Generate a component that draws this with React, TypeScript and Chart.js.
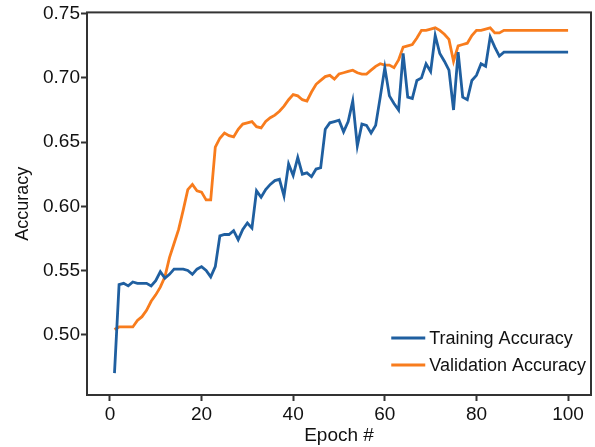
import React, { useEffect, useRef } from "react";
import { Chart, registerables } from "chart.js";

Chart.register(...registerables);

const epochs: number[] = Array.from({ length: 100 }, (_, i) => i + 1);

const trainingAccuracy: number[] = [
  0.470, 0.539, 0.540, 0.538, 0.541, 0.540, 0.540, 0.540, 0.538, 0.542,
  0.549, 0.544, 0.547, 0.551, 0.551, 0.551, 0.550, 0.547, 0.551, 0.553,
  0.550, 0.545, 0.553, 0.577, 0.578, 0.578, 0.581, 0.574, 0.582, 0.587,
  0.583, 0.612, 0.607, 0.613, 0.617, 0.620, 0.621, 0.608, 0.633, 0.624,
  0.638, 0.625, 0.626, 0.623, 0.629, 0.630, 0.660, 0.665, 0.666, 0.667,
  0.658, 0.666, 0.682, 0.647, 0.664, 0.663, 0.657, 0.663, 0.685, 0.708,
  0.686, 0.680, 0.675, 0.719, 0.685, 0.684, 0.698, 0.700, 0.711, 0.705,
  0.733, 0.719, 0.713, 0.706, 0.675, 0.720, 0.685, 0.683, 0.698, 0.702,
  0.711, 0.709, 0.732, 0.724, 0.717, 0.720, 0.720, 0.720, 0.720, 0.720,
  0.720, 0.720, 0.720, 0.720, 0.720, 0.720, 0.720, 0.720, 0.720, 0.720,
];

const validationAccuracy: number[] = [
  0.504, 0.506, 0.506, 0.506, 0.506, 0.511, 0.514, 0.519, 0.526, 0.531,
  0.537, 0.545, 0.560, 0.571, 0.582, 0.597, 0.613, 0.617, 0.612, 0.611,
  0.605, 0.605, 0.646, 0.653, 0.657, 0.655, 0.654, 0.660, 0.664, 0.665,
  0.666, 0.662, 0.661, 0.666, 0.669, 0.671, 0.674, 0.678, 0.683, 0.687,
  0.686, 0.683, 0.682, 0.689, 0.695, 0.698, 0.701, 0.702, 0.699, 0.703,
  0.704, 0.705, 0.706, 0.704, 0.703, 0.703, 0.706, 0.709, 0.711, 0.710,
  0.710, 0.708, 0.714, 0.724, 0.725, 0.726, 0.731, 0.737, 0.737, 0.738,
  0.739, 0.737, 0.734, 0.730, 0.713, 0.725, 0.726, 0.727, 0.733, 0.737,
  0.737, 0.738, 0.739, 0.735, 0.735, 0.737, 0.737, 0.737, 0.737, 0.737,
  0.737, 0.737, 0.737, 0.737, 0.737, 0.737, 0.737, 0.737, 0.737, 0.737,
];

const xTicks: number[] = [0, 20, 40, 60, 80, 100];
const yTicks: number[] = [0.5, 0.55, 0.6, 0.65, 0.7, 0.75];

const seriesLabels: string[] = ["Training Accuracy", "Validation Accuracy"];
const seriesColors: string[] = ["#1f5fa0", "#f87c1d"];

const FONT = "'Liberation Sans', Arial, sans-serif";

const framePlugin = {
  id: "frameAndLegend",
  afterDatasetsDraw(chart: any) {
    const { ctx, chartArea } = chart;
    ctx.save();
    ctx.strokeStyle = "#333333";
    ctx.lineWidth = 2;
    ctx.strokeRect(chartArea.left, chartArea.top, chartArea.right - chartArea.left, chartArea.bottom - chartArea.top);
    // legend inside lower right
    ctx.font = `18px ${FONT}`;
    ctx.textBaseline = "middle";
    ctx.textAlign = "left";
    const rowH = 27;
    const lineLen = 34;
    const gap = 4;
    const widths = chart.data.datasets.map((d: any) => ctx.measureText(d.label).width);
    const maxW = Math.max(...widths);
    const x0 = chartArea.right - 5 - maxW - gap - lineLen;
    const y0 = chartArea.bottom - 30 - rowH;
    chart.data.datasets.forEach((d: any, i: number) => {
      const y = y0 + i * rowH;
      ctx.strokeStyle = d.borderColor;
      ctx.lineWidth = 3;
      ctx.beginPath();
      ctx.moveTo(x0, y);
      ctx.lineTo(x0 + lineLen, y);
      ctx.stroke();
      ctx.fillStyle = "#111111";
      ctx.fillText(d.label, x0 + lineLen + gap, y + 1);
    });
    ctx.restore();
  },
};

export default function App() {
  const canvasRef = useRef<HTMLCanvasElement | null>(null);

  useEffect(() => {
    if (!canvasRef.current) return;
    const chart = new Chart(canvasRef.current, {
      type: "line",
      data: {
        datasets: [
          {
            label: seriesLabels[0],
            data: epochs.map((e, i) => ({ x: e, y: trainingAccuracy[i] })),
            borderColor: seriesColors[0],
            backgroundColor: seriesColors[0],
            borderWidth: 2.8,
            pointRadius: 0,
            tension: 0,
          },
          {
            label: seriesLabels[1],
            data: epochs.map((e, i) => ({ x: e, y: validationAccuracy[i] })),
            borderColor: seriesColors[1],
            backgroundColor: seriesColors[1],
            borderWidth: 2.8,
            pointRadius: 0,
            tension: 0,
          },
        ],
      },
      options: {
        animation: false,
        responsive: false,
        maintainAspectRatio: false,
        layout: { padding: { top: 12, right: 4, left: 0, bottom: 0 } },
        plugins: {
          legend: { display: false },
          tooltip: { enabled: false },
        },
        scales: {
          x: {
            type: "linear",
            min: -5,
            max: 105,
            afterBuildTicks: (scale: any) => {
              scale.ticks = xTicks.map((v) => ({ value: v }));
            },
            afterFit: (scale: any) => {
              scale.height = 52;
            },
            grid: { drawOnChartArea: false, drawTicks: true, tickLength: 6, tickColor: "#333333", tickWidth: 2 },
            border: { display: false },
            ticks: {
              color: "#111111",
              font: { family: FONT, size: 19 },
              padding: 2,
              maxRotation: 0,
              callback: (v: any) => String(v),
            },
            title: {
              display: true,
              text: "Epoch #",
              color: "#111111",
              font: { family: FONT, size: 19 },
              padding: { top: 0, bottom: 0 },
            },
          },
          y: {
            type: "linear",
            min: 0.453,
            max: 0.751,
            afterBuildTicks: (scale: any) => {
              scale.ticks = yTicks.map((v) => ({ value: v }));
            },
            afterFit: (scale: any) => {
              scale.width = 87;
            },
            grid: { drawOnChartArea: false, drawTicks: true, tickLength: 6, tickColor: "#333333", tickWidth: 2 },
            border: { display: false },
            ticks: {
              color: "#111111",
              font: { family: FONT, size: 19 },
              padding: 1,
              callback: (v: any) => Number(v).toFixed(2),
            },
            title: {
              display: true,
              text: "Accuracy",
              color: "#111111",
              font: { family: FONT, size: 18 },
              padding: { top: 12, bottom: 0 },
            },
          },
        },
      },
      plugins: [framePlugin],
    });
    return () => chart.destroy();
  }, []);

  return (
    <div style={{ position: "absolute", left: 0, top: 0, width: 595, height: 447, background: "#ffffff" }}>
      <canvas ref={canvasRef} width={595} height={447} style={{ display: "block" }} />
    </div>
  );
}
